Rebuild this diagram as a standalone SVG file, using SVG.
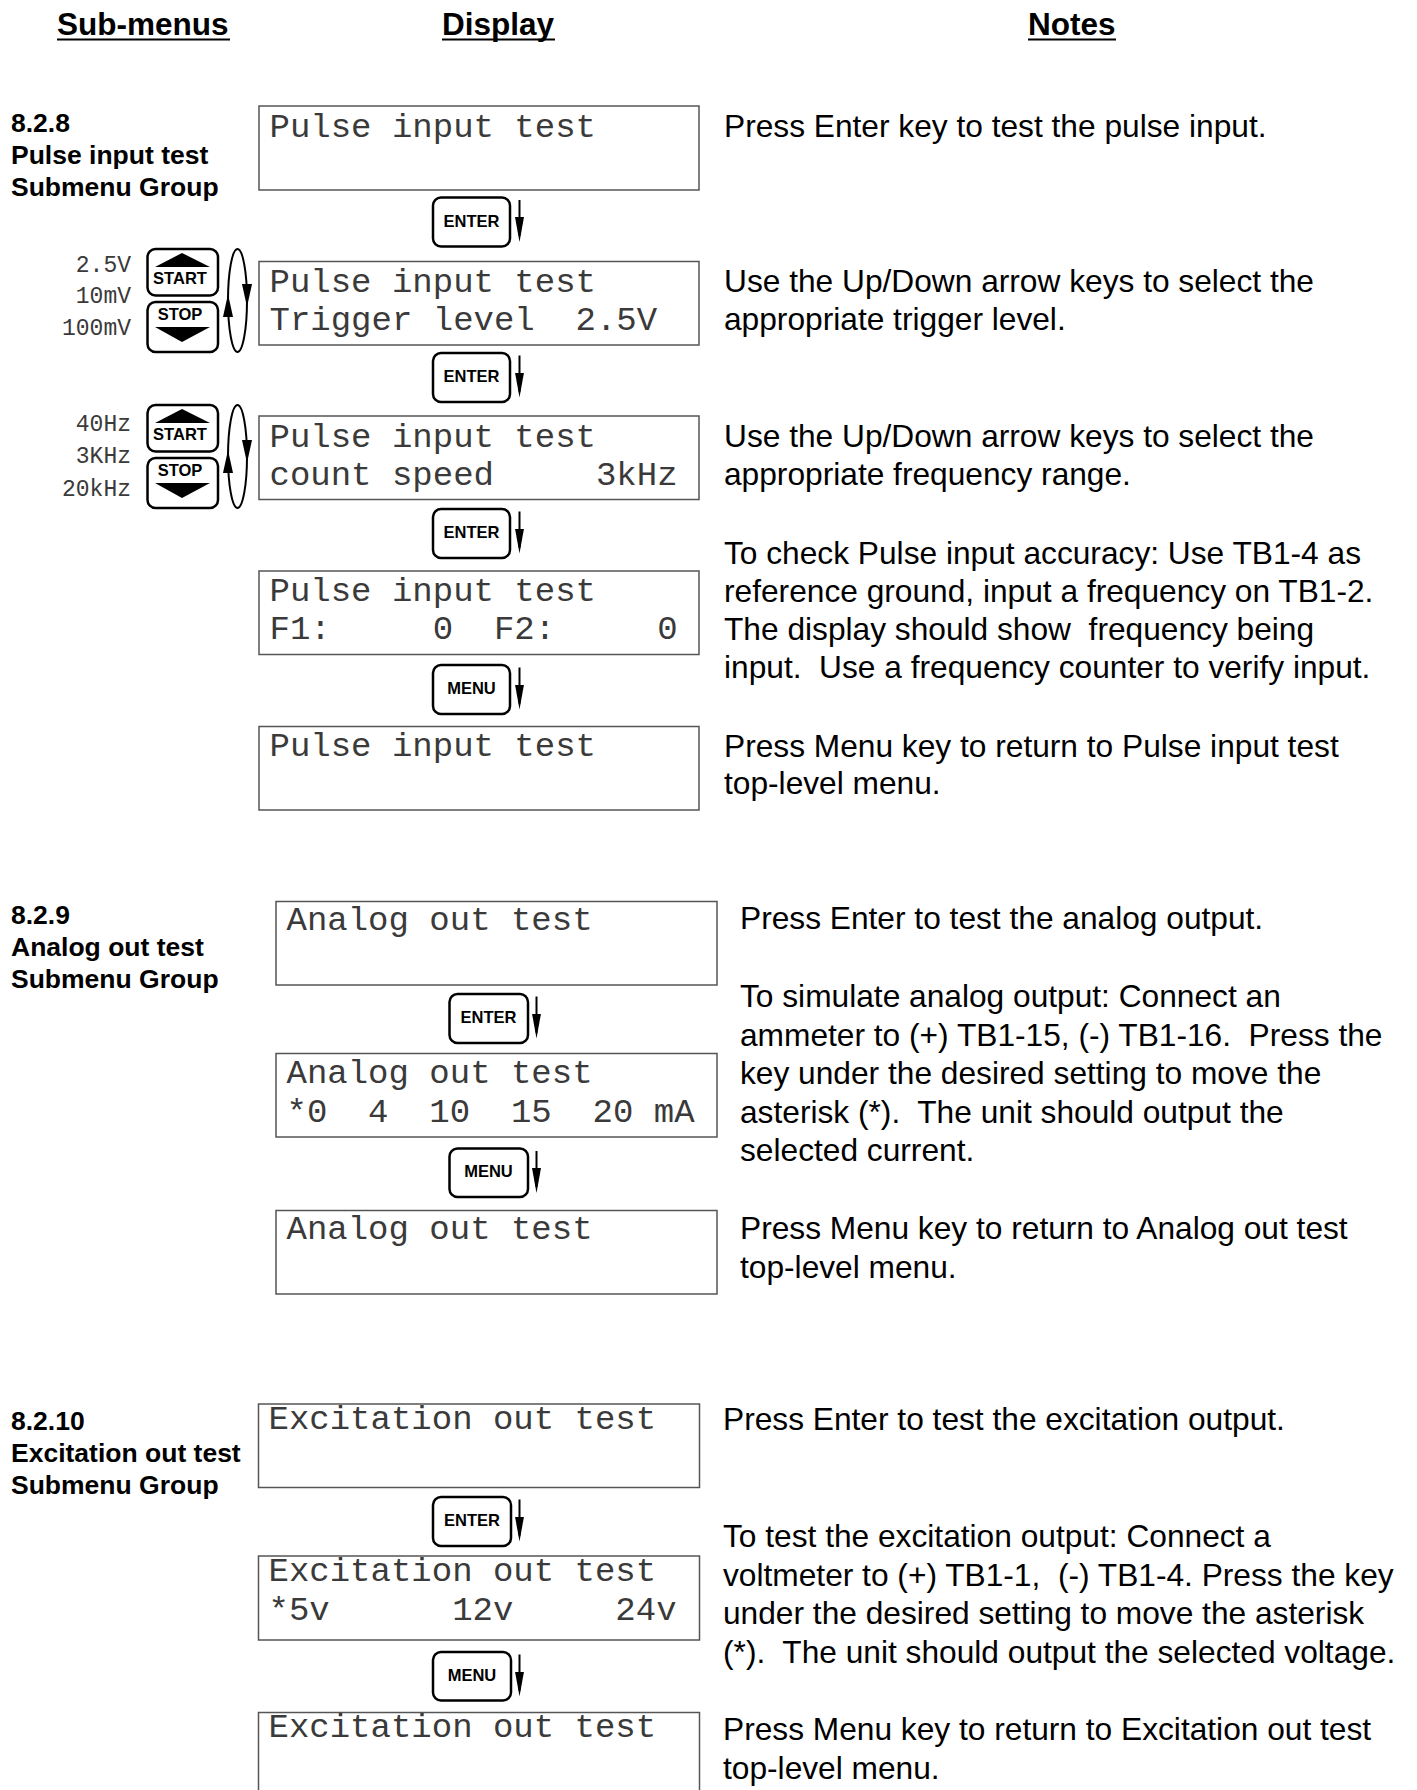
<svg xmlns="http://www.w3.org/2000/svg" width="1417" height="1790" viewBox="0 0 1417 1790" xml:space="preserve">
<defs>
<style>
text{white-space:pre}
.hdr{font-family:"Liberation Sans",Arial,sans-serif;font-weight:bold;font-size:31.5px;fill:#000}
.sec{font-family:"Liberation Sans",Arial,sans-serif;font-weight:bold;font-size:26.5px;fill:#000}
.note{font-family:"Liberation Sans",Arial,sans-serif;font-size:31.7px;fill:#000}
.lcd{font-family:"Liberation Mono","Courier New",monospace;font-size:34px;fill:#3a3a3a}
.lbl{font-family:"Liberation Mono","Courier New",monospace;font-size:23px;fill:#3a3a3a;text-anchor:end}
.box{fill:#fff;stroke:#555;stroke-width:1.5}
.key{fill:#fff;stroke:#000;stroke-width:2.5}
.keyt{font-family:"Liberation Sans",Arial,sans-serif;font-weight:bold;font-size:16.5px;text-anchor:middle;fill:#000}
.tri{fill:#000}
.conn{stroke:#000;stroke-width:2;fill:none}
.uline{stroke:#000;stroke-width:2.2}
</style>
<marker id="ah" markerUnits="userSpaceOnUse" orient="auto" markerWidth="25" markerHeight="10" refX="19" refY="4.5" viewBox="0 0 25 9">
<path d="M0,0 L25,4.5 L0,9 z" fill="#000"/>
</marker>
</defs>
<rect width="1417" height="1790" fill="#fff"/>

<g id="headers">
<text class="hdr" x="57" y="35">Sub-menus</text>
<line class="uline" x1="57" y1="39.5" x2="230" y2="39.5"/>
<text class="hdr" x="442" y="35">Display</text>
<line class="uline" x1="442" y1="39.5" x2="555" y2="39.5"/>
<text class="hdr" x="1028" y="35">Notes</text>
<line class="uline" x1="1028" y1="39.5" x2="1116" y2="39.5"/>
</g>

<!-- Section 8.2.8 -->
<g id="sec828-label">
<text class="sec" x="11" y="132">8.2.8</text>
<text class="sec" x="11" y="164">Pulse input test</text>
<text class="sec" x="11" y="195.5">Submenu Group</text>
</g>
<g id="p-box1"><rect class="box" x="259" y="106" width="440" height="84"/><text class="lcd" x="269.5" y="137">Pulse input test</text></g>
<g id="p-enter1"><rect class="key" x="433" y="197.5" width="77" height="49" rx="8"/><text class="keyt" x="471.5" y="226.5">ENTER</text></g>
<g id="p-box2"><rect class="box" x="259" y="261.5" width="440" height="83.5"/><text class="lcd" x="269.5" y="292">Pulse input test</text><text class="lcd" x="269.5" y="330">Trigger level  2.5V</text></g>
<g id="p-keys1">
<text class="lbl" x="131" y="272">2.5V</text><text class="lbl" x="131" y="303">10mV</text><text class="lbl" x="131" y="335">100mV</text>
<rect class="key" x="147.5" y="249" width="70.5" height="46.5" rx="8"/>
<polygon class="tri" points="182,253 210,267 155,267"/>
<text class="keyt" x="180" y="283.5">START</text>
<rect class="key" x="147.5" y="302" width="70.5" height="50" rx="8"/>
<text class="keyt" x="180" y="320">STOP</text>
<polygon class="tri" points="155,327 210,327 182,342"/>
</g>
<g id="p-enter2"><rect class="key" x="433" y="353" width="77" height="49" rx="8"/><text class="keyt" x="471.5" y="382">ENTER</text></g>
<g id="p-box3"><rect class="box" x="259" y="416" width="440" height="83.5"/><text class="lcd" x="269.5" y="447">Pulse input test</text><text class="lcd" x="269.5" y="485">count speed     3kHz</text></g>
<g id="p-keys2">
<text class="lbl" x="131" y="431">40Hz</text><text class="lbl" x="131" y="463">3KHz</text><text class="lbl" x="131" y="496">20kHz</text>
<rect class="key" x="147.5" y="405" width="70.5" height="46.5" rx="8"/>
<polygon class="tri" points="182,409 210,423 155,423"/>
<text class="keyt" x="180" y="439.5">START</text>
<rect class="key" x="147.5" y="458" width="70.5" height="50" rx="8"/>
<text class="keyt" x="180" y="476">STOP</text>
<polygon class="tri" points="155,483 210,483 182,498"/>
</g>
<g id="p-enter3"><rect class="key" x="433" y="509" width="77" height="49" rx="8"/><text class="keyt" x="471.5" y="538">ENTER</text></g>
<g id="p-box4"><rect class="box" x="259" y="571" width="440" height="83.5"/><text class="lcd" x="269.5" y="601">Pulse input test</text><text class="lcd" x="269.5" y="639">F1:     0  F2:     0</text></g>
<g id="p-menu"><rect class="key" x="433" y="665" width="77" height="49" rx="8"/><text class="keyt" x="471.5" y="694">MENU</text></g>
<g id="p-box5"><rect class="box" x="259" y="726.5" width="440" height="83.5"/><text class="lcd" x="269.5" y="756">Pulse input test</text></g>
<g id="p-notes">
<text class="note" x="724" y="137">Press Enter key to test the pulse input.</text>
<text class="note" x="724" y="292">Use the Up/Down arrow keys to select the</text>
<text class="note" x="724" y="330">appropriate trigger level.</text>
<text class="note" x="724" y="447">Use the Up/Down arrow keys to select the</text>
<text class="note" x="724" y="485">appropriate frequency range.</text>
<text class="note" x="724" y="564">To check Pulse input accuracy: Use TB1-4 as</text>
<text class="note" x="724" y="602">reference ground, input a frequency on TB1-2.</text>
<text class="note" x="724" y="640">The display should show  frequency being</text>
<text class="note" x="724" y="678">input.  Use a frequency counter to verify input.</text>
<text class="note" x="724" y="756.5">Press Menu key to return to Pulse input test</text>
<text class="note" x="724" y="794">top-level menu.</text>
</g>

<!-- Section 8.2.9 -->
<g id="sec829-label">
<text class="sec" x="11" y="924">8.2.9</text>
<text class="sec" x="11" y="956">Analog out test</text>
<text class="sec" x="11" y="987.5">Submenu Group</text>
</g>
<g id="a-box1"><rect class="box" x="276" y="901.5" width="441" height="83.5"/><text class="lcd" x="286.5" y="930">Analog out test</text></g>
<g id="a-enter"><rect class="key" x="449.5" y="994" width="78.5" height="49" rx="8"/><text class="keyt" x="488.5" y="1022.5">ENTER</text></g>
<g id="a-box2"><rect class="box" x="276" y="1053.5" width="441" height="83.5"/><text class="lcd" x="286.5" y="1083">Analog out test</text><text class="lcd" x="286.5" y="1122">*0  4  10  15  20 mA</text></g>
<g id="a-menu"><rect class="key" x="449.5" y="1148.5" width="78.5" height="48.5" rx="8"/><text class="keyt" x="488.5" y="1177">MENU</text></g>
<g id="a-box3"><rect class="box" x="276" y="1210.5" width="441" height="83.5"/><text class="lcd" x="286.5" y="1239">Analog out test</text></g>
<g id="a-notes">
<text class="note" x="740" y="929">Press Enter to test the analog output.</text>
<text class="note" x="740" y="1007">To simulate analog output: Connect an</text>
<text class="note" x="740" y="1045.5">ammeter to (+) TB1-15, (-) TB1-16.  Press the</text>
<text class="note" x="740" y="1084">key under the desired setting to move the</text>
<text class="note" x="740" y="1122.5">asterisk (*).  The unit should output the</text>
<text class="note" x="740" y="1161">selected current.</text>
<text class="note" x="740" y="1239">Press Menu key to return to Analog out test</text>
<text class="note" x="740" y="1277.5">top-level menu.</text>
</g>

<!-- Section 8.2.10 -->
<g id="sec8210-label">
<text class="sec" x="11" y="1430">8.2.10</text>
<text class="sec" x="11" y="1462">Excitation out test</text>
<text class="sec" x="11" y="1493.5">Submenu Group</text>
</g>
<g id="e-box1"><rect class="box" x="258.5" y="1404" width="441" height="83.5"/><text class="lcd" x="268.5" y="1429">Excitation out test</text></g>
<g id="e-enter"><rect class="key" x="433" y="1497" width="78" height="49" rx="8"/><text class="keyt" x="472" y="1525.5">ENTER</text></g>
<g id="e-box2"><rect class="box" x="258.5" y="1556" width="441" height="84"/><text class="lcd" x="268.5" y="1581">Excitation out test</text><text class="lcd" x="268.5" y="1620">*5v      12v     24v</text></g>
<g id="e-menu"><rect class="key" x="433" y="1652" width="78" height="48.5" rx="8"/><text class="keyt" x="472" y="1680.5">MENU</text></g>
<g id="e-box3"><rect class="box" x="258.5" y="1712.5" width="441" height="90"/><text class="lcd" x="268.5" y="1737">Excitation out test</text></g>
<g id="e-notes">
<text class="note" x="723" y="1430">Press Enter to test the excitation output.</text>
<text class="note" x="723" y="1547">To test the excitation output: Connect a</text>
<text class="note" x="723" y="1585.5">voltmeter to (+) TB1-1,  (-) TB1-4. Press the key</text>
<text class="note" x="723" y="1624">under the desired setting to move the asterisk</text>
<text class="note" x="723" y="1662.5">(*).  The unit should output the selected voltage.</text>
<text class="note" x="723" y="1740">Press Menu key to return to Excitation out test</text>
<text class="note" x="723" y="1778.5">top-level menu.</text>
</g>

<g id="connectors">
<line class="conn" x1="519.5" y1="200" x2="519.5" y2="236" marker-end="url(#ah)"/>
<line class="conn" x1="519.5" y1="355.5" x2="519.5" y2="391.5" marker-end="url(#ah)"/>
<line class="conn" x1="519.5" y1="511.5" x2="519.5" y2="547.5" marker-end="url(#ah)"/>
<line class="conn" x1="519.5" y1="667.5" x2="519.5" y2="703.5" marker-end="url(#ah)"/>
<line class="conn" x1="536.5" y1="996.5" x2="536.5" y2="1032.5" marker-end="url(#ah)"/>
<line class="conn" x1="536.5" y1="1151" x2="536.5" y2="1187" marker-end="url(#ah)"/>
<line class="conn" x1="519.5" y1="1499.5" x2="519.5" y2="1535.5" marker-end="url(#ah)"/>
<line class="conn" x1="519.5" y1="1654.5" x2="519.5" y2="1690.5" marker-end="url(#ah)"/>
<ellipse class="conn" cx="237.5" cy="300.5" rx="9.5" ry="51.5"/>
<polygon class="tri" points="242,284 252,284 247,307"/>
<polygon class="tri" points="223,317 233,317 228,294"/>
<ellipse class="conn" cx="237.5" cy="456.5" rx="9.5" ry="51.5"/>
<polygon class="tri" points="242,440 252,440 247,463"/>
<polygon class="tri" points="223,473 233,473 228,450"/>
</g>
</svg>
